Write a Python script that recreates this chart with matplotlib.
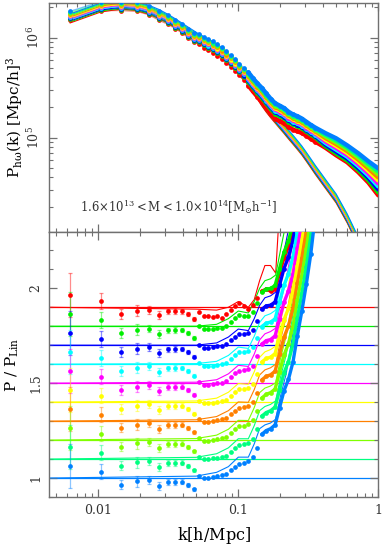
import matplotlib
matplotlib.use("Agg")
import matplotlib.pyplot as plt
from matplotlib.ticker import LogLocator, NullFormatter, FixedLocator, FixedFormatter, MultipleLocator, LogFormatterMathtext

plt.rcParams['font.family'] = ['DejaVu Serif']
plt.rcParams['mathtext.fontset'] = 'dejavuserif'

# ---------------- data ----------------
k = [0.0063, 0.0104, 0.0146, 0.0188, 0.0230, 0.0272, 0.0314, 0.0356, 0.0398, 0.0440,
     0.0482, 0.0524, 0.0566, 0.0610, 0.0656, 0.0706, 0.0760, 0.0818, 0.0880, 0.0947,
     0.1019, 0.1096, 0.1180, 0.1270, 0.1366, 0.1470, 0.1582, 0.1702, 0.1832, 0.1971,
     0.2121, 0.2282, 0.2456, 0.2643, 0.2844, 0.3060, 0.3293, 0.3544,
     0.42, 0.50, 0.60, 0.72, 0.85, 1.00]
n_points = 38        # measured bins drawn as markers; remaining k are band anchors
dense_top = 22       # from here on the markers merge into a band (upper panel)
dense_bottom = 25    # same for the lower panel

plin = [1.40e6, 1.80e6, 1.93e6, 1.86e6, 1.71e6, 1.55e6, 1.39e6, 1.25e6, 1.13e6, 1.03e6,
        9.5e5, 8.8e5, 8.3e5, 7.85e5, 7.4e5, 6.9e5, 6.4e5, 5.8e5, 5.2e5, 4.65e5,
        4.15e5, 3.75e5, 3.35e5, 2.88e5, 2.45e5, 2.08e5, 1.80e5, 1.58e5, 1.40e5, 1.24e5,
        1.10e5, 9.7e4, 8.6e4, 7.6e4, 6.7e4, 5.8e4, 5.0e4, 4.3e4,
        3.1e4, 2.22e4, 1.40e4, 8.2e3, 4.8e3, 2.7e3]

ratio_shared = [1.065, 1.033, 0.965, 0.982, 0.988, 0.958, 0.978, 0.980, 0.980, 0.963, 0.940]
ratio_err = [0.115, 0.040, 0.025, 0.030, 0.021, 0.020, 0.015, 0.015, 0.013, 0.010, 0.010]

ratio_red = [0.977, 0.954, 0.952, 0.950, 0.955, 0.945, 0.962, 0.986, 1.007, 1.024, 1.007, 0.989, 1.010, 1.050, 1.085, 1.095, 1.085, 1.095, 1.180, 1.260, 1.320, 1.400, 1.520, 1.660, 1.800, 1.950, 2.120,
             2.55, 3.00, 4.05, 5.50, 7.40, 9.80]
ratio_green = [1.000, 0.984, 0.983, 0.986, 0.991, 0.991, 1.000, 1.021, 1.041, 1.057, 1.054, 1.055, 1.075, 1.122, 1.179, 1.196, 1.199, 1.215, 1.304, 1.390, 1.450, 1.537, 1.670, 1.803, 1.943, 2.100, 2.289,
               2.59, 3.06, 4.13, 5.64, 7.63, 10.26]
ratio_blue = [1.002, 0.987, 0.987, 0.990, 0.995, 0.995, 1.004, 1.025, 1.045, 1.061, 1.060, 1.062, 1.082, 1.129, 1.189, 1.207, 1.211, 1.228, 1.317, 1.404, 1.464, 1.551, 1.686, 1.818, 1.958, 2.116, 2.307,
              2.62, 3.12, 4.22, 5.78, 7.88, 10.74]
ratio_cyan = [1.004, 0.990, 0.989, 0.993, 0.998, 1.000, 1.007, 1.028, 1.048, 1.064, 1.064, 1.068, 1.088, 1.136, 1.198, 1.216, 1.222, 1.239, 1.328, 1.416, 1.476, 1.564, 1.699, 1.832, 1.972, 2.129, 2.323,
              2.66, 3.19, 4.30, 5.93, 8.13, 11.24]
ratio_magenta = [1.006, 0.992, 0.992, 0.996, 1.001, 1.003, 1.010, 1.031, 1.051, 1.066, 1.068, 1.073, 1.093, 1.141, 1.205, 1.224, 1.230, 1.249, 1.338, 1.426, 1.486, 1.574, 1.711, 1.843, 1.983, 2.141, 2.336,
                 2.70, 3.25, 4.39, 6.08, 8.38, 11.77]
ratio_yellow = [1.007, 0.994, 0.994, 0.998, 1.003, 1.006, 1.012, 1.033, 1.053, 1.068, 1.071, 1.077, 1.097, 1.146, 1.211, 1.230, 1.237, 1.256, 1.345, 1.434, 1.494, 1.583, 1.720, 1.851, 1.991, 2.150, 2.346,
                2.74, 3.32, 4.48, 6.24, 8.65, 12.32]
ratio_orange = [1.009, 0.996, 0.996, 1.000, 1.005, 1.009, 1.015, 1.035, 1.055, 1.070, 1.073, 1.081, 1.101, 1.150, 1.217, 1.236, 1.244, 1.263, 1.353, 1.442, 1.502, 1.591, 1.729, 1.860, 2.000, 2.159, 2.357,
                2.78, 3.38, 4.57, 6.40, 8.92, 12.90]
ratio_chartreuse = [1.010, 0.997, 0.997, 1.002, 1.007, 1.011, 1.017, 1.037, 1.057, 1.072, 1.076, 1.084, 1.104, 1.153, 1.221, 1.241, 1.250, 1.269, 1.359, 1.448, 1.508, 1.597, 1.736, 1.867, 2.007, 2.166, 2.364,
                    2.82, 3.45, 4.66, 6.56, 9.21, 13.50]
ratio_spring = [1.011, 0.999, 0.999, 1.003, 1.008, 1.013, 1.018, 1.038, 1.058, 1.073, 1.078, 1.087, 1.107, 1.157, 1.226, 1.245, 1.255, 1.274, 1.364, 1.454, 1.514, 1.604, 1.743, 1.873, 2.013, 2.173, 2.372,
                2.86, 3.52, 4.75, 6.73, 9.50, 14.14]
ratio_azure = [1.012, 1.000, 1.000, 1.005, 1.010, 1.015, 1.020, 1.040, 1.060, 1.075, 1.080, 1.090, 1.110, 1.160, 1.230, 1.250, 1.260, 1.280, 1.370, 1.460, 1.520, 1.610, 1.750, 1.880, 2.020, 2.180, 2.380,
               2.90, 3.60, 4.85, 6.90, 9.80, 14.80]

# model curves (thin lines in the lower panel)
k_model = [0.0045, 0.05, 0.07, 0.085, 0.10, 0.118, 0.13, 0.142, 0.155, 0.17, 0.185, 0.20, 0.22, 0.25, 0.28, 0.32, 0.38]
model_red = [1.00, 0.99, 0.985, 1.00, 1.03, 1.00, 1.04, 1.14, 1.22, 1.22, 1.18, 1.60, 2.20, 3.0, 3.6, 4.2, 5.0]
model_green = [1.00, 1.00, 1.01, 1.04, 1.08, 1.07, 1.13, 1.20, 1.24, 1.25, 1.27, 1.40, 1.55, 1.75, 2.00, 2.35, 2.85]
model_blue = [1.00, 1.00, 1.012, 1.043, 1.085, 1.077, 1.14, 1.21, 1.25, 1.26, 1.28, 1.41, 1.55, 1.76, 2.01, 2.36, 2.86]
model_cyan = [1.00, 1.003, 1.015, 1.046, 1.09, 1.083, 1.147, 1.22, 1.255, 1.266, 1.285, 1.415, 1.55, 1.77, 2.02, 2.37, 2.87]
model_magenta = [1.00, 1.005, 1.018, 1.049, 1.094, 1.088, 1.153, 1.228, 1.26, 1.272, 1.29, 1.42, 1.55, 1.775, 2.025, 2.375, 2.875]
model_yellow = [1.00, 1.006, 1.021, 1.052, 1.098, 1.094, 1.16, 1.236, 1.265, 1.277, 1.295, 1.423, 1.55, 1.78, 2.03, 2.38, 2.88]
model_orange = [1.00, 1.007, 1.024, 1.055, 1.101, 1.099, 1.166, 1.243, 1.27, 1.281, 1.30, 1.426, 1.55, 1.785, 2.035, 2.385, 2.885]
model_chartreuse = [1.00, 1.008, 1.026, 1.057, 1.104, 1.103, 1.171, 1.25, 1.274, 1.285, 1.303, 1.428, 1.55, 1.79, 2.04, 2.39, 2.89]
model_spring = [1.00, 1.009, 1.028, 1.059, 1.107, 1.107, 1.176, 1.255, 1.277, 1.288, 1.307, 1.429, 1.55, 1.795, 2.045, 2.395, 2.895]
model_azure = [1.00, 1.01, 1.03, 1.06, 1.11, 1.11, 1.18, 1.26, 1.28, 1.29, 1.31, 1.43, 1.55, 1.80, 2.05, 2.40, 2.90]

series_ratios = [ratio_red, ratio_green, ratio_blue, ratio_cyan, ratio_magenta,
                 ratio_yellow, ratio_orange, ratio_chartreuse, ratio_spring, ratio_azure]
series_models = [model_red, model_green, model_blue, model_cyan, model_magenta,
                 model_yellow, model_orange, model_chartreuse, model_spring, model_azure]
colors = ['#ff0000', '#00ee00', '#0000ff', '#00ffff', '#ff00ff',
          '#ffff00', '#ff8000', '#80ff00', '#00ff80', '#0080ff']
offsets = [0.9, 0.8, 0.7, 0.6, 0.5, 0.4, 0.3, 0.2, 0.1, 0.0]
top_scale = [1.000, 1.023, 1.047, 1.072, 1.096, 1.122, 1.148, 1.175, 1.202, 1.230]

xlim = (0.00447, 1.0)
label_text = r'$1.6{\times}10^{13}{<}\mathrm{M}{<}1.0{\times}10^{14}[\mathrm{M_{\odot}h^{-1}}]$'

# ---------------- figure ----------------
fig = plt.figure(figsize=(3.82, 5.49), dpi=100)
L, W = 49.3 / 382, (378.3 - 49.3) / 382
ax1 = fig.add_axes([L, (549 - 232.3) / 549, W, (232.3 - 3.3) / 549])
ax2 = fig.add_axes([L, (549 - 497.0) / 549, W, (497.0 - 232.3) / 549])

spine_col = '#707070'
ms = 3.4

# top panel
for i, (rat, c, s) in enumerate(zip(series_ratios, colors, top_scale)):
    full = ratio_shared + rat
    lin_i = [p * s for p in plin]
    data_i = [p * s * r for p, r in zip(plin, full)]
    z = 3 + i * 0.01
    ax1.plot(k, lin_i, '-', color=c, lw=0.8, zorder=2)
    ax1.plot(k, data_i, '-', color=c, lw=0.9, alpha=0.5, zorder=2)
    ax1.plot(k[dense_top:], data_i[dense_top:], '-', color=c, lw=3.2,
             solid_capstyle='round', zorder=z)
    ax1.plot(k[:n_points], data_i[:n_points], 'o', color=c, ms=ms, mew=0, zorder=z)

ax1.set_xscale('log')
ax1.set_yscale('log')
ax1.set_xlim(*xlim)
ax1.set_ylim(1.13e4, 2.2e6)
ax1.text(0.093, 0.11, label_text, transform=ax1.transAxes, fontsize=8.4,
         va='center', ha='left', color='#333333')
ax1.set_ylabel(r'$\mathrm{P_{h\omega}(k)\ [Mpc/h]^3}$', fontsize=11, labelpad=1)
ax1.yaxis.set_major_locator(LogLocator(base=10, numticks=10))
ax1.yaxis.set_major_formatter(LogFormatterMathtext())
ax1.yaxis.set_minor_locator(LogLocator(base=10, subs=[2, 3, 4, 5, 6, 7, 8, 9], numticks=20))
ax1.yaxis.set_minor_formatter(NullFormatter())
ax1.xaxis.set_major_formatter(NullFormatter())
ax1.xaxis.set_minor_formatter(NullFormatter())

# bottom panel
for i, (rat, mod, c, off) in enumerate(zip(series_ratios, series_models, colors, offsets)):
    full = ratio_shared + rat
    shown = [r + off for r in full[:n_points]]
    z = 3 + i * 0.01
    ax2.axhline(1.0 + off, color=c, lw=0.9, zorder=1)
    ax2.plot(k_model, [m + off for m in mod], '-', color=c, lw=0.8, zorder=2)
    ax2.errorbar(k[:len(ratio_err)], shown[:len(ratio_err)], yerr=ratio_err,
                 fmt='none', ecolor=c, alpha=0.45, elinewidth=0.9, capsize=1.6,
                 capthick=0.9, zorder=2)
    ax2.plot(k[dense_bottom:n_points], shown[dense_bottom:], '-', color=c, lw=2.4,
             solid_capstyle='round', zorder=z)
    ax2.plot(k[:n_points], shown, 'o', color=c, ms=ms, mew=0, zorder=z)

ax2.set_xscale('log')
ax2.set_xlim(*xlim)
ax2.set_ylim(0.9, 2.295)
ax2.set_ylabel(r'$\mathrm{P\ /\ P_{Lin}}$', fontsize=11, labelpad=6)
ax2.set_xlabel(r'$\mathrm{k[h/Mpc]}$', fontsize=11.5, labelpad=6)
ax2.yaxis.set_major_locator(FixedLocator([1.0, 1.5, 2.0]))
ax2.yaxis.set_major_formatter(FixedFormatter(['1', '1.5', '2']))
ax2.yaxis.set_minor_locator(MultipleLocator(0.1))
ax2.xaxis.set_major_locator(FixedLocator([0.01, 0.1, 1.0]))
ax2.xaxis.set_major_formatter(FixedFormatter(['0.01', '0.1', '1']))
ax2.xaxis.set_minor_locator(LogLocator(base=10, subs=[2, 3, 4, 5, 6, 7, 8, 9], numticks=20))
ax2.xaxis.set_minor_formatter(NullFormatter())

for ax in (ax1, ax2):
    for sp in ax.spines.values():
        sp.set_color(spine_col)
        sp.set_linewidth(1.0)
    ax.tick_params(which='both', direction='in', top=True, right=True,
                   color=spine_col, labelcolor='#333333', labelsize=9)
    ax.tick_params(which='major', length=5.5, width=0.9, pad=5)
    ax.tick_params(which='minor', length=3, width=0.8)
    for lab in ax.get_yticklabels():
        lab.set_rotation(90)
        lab.set_va('center')

fig.savefig('out.png', dpi=100)
